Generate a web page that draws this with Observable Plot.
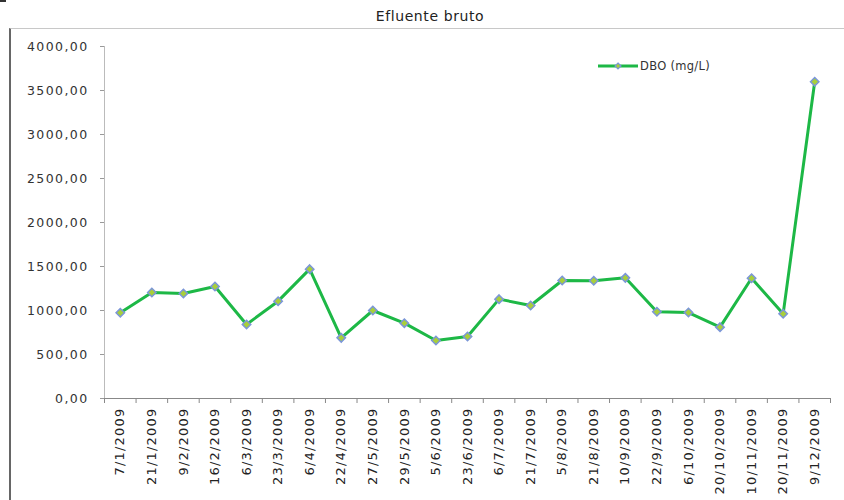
<!DOCTYPE html>
<html>
<head>
<meta charset="utf-8">
<script src="https://cdn.jsdelivr.net/npm/d3@7"></script>
<script src="https://cdn.jsdelivr.net/npm/@observablehq/plot@0.6"></script>
<style>
  body { margin: 0; background: #fff; font-family: "DejaVu Sans", sans-serif; }
  #wrap { position: relative; width: 844px; height: 500px; overflow: hidden; }
  #title { position: absolute; left: 0; top: 8px; width: 860px; text-align: center; font-size: 14px; color: #222; letter-spacing: 0.6px; }
  #chart { position: absolute; left: 9px; top: 28px; border-left: 2px solid #666; border-top: 1px solid #c8c8c8; }
  #legend { position: absolute; left: 598px; top: 59px; font-size: 11.5px; color: #333; display: flex; align-items: center; letter-spacing: 0.3px; }
  #mark { position: absolute; left: 0; top: 0; width: 6px; height: 2px; background: #333; }
  #chart g[aria-label="y-axis tick label"] text { letter-spacing: 1.4px; }
  #chart g[aria-label="x-axis tick label"] text { letter-spacing: 1.2px; }
</style>
</head>
<body>
<div id="wrap">
  <div id="mark"></div>
  <div id="title">Efluente bruto</div>
  <div id="chart"></div>
  <div id="legend"><svg width="42" height="12"><line x1="0" y1="6" x2="40" y2="6" stroke="#1db846" stroke-width="3"/><path d="M20,3 L23,6 L20,9 L17,6 Z" fill="#a8cf3a" stroke="#7b96d8" stroke-width="1.2"/></svg><span>DBO (mg/L)</span></div>
</div>
<script>
const dates = ["7/1/2009","21/1/2009","9/2/2009","16/2/2009","6/3/2009","23/3/2009","6/4/2009","22/4/2009","27/5/2009","29/5/2009","5/6/2009","23/6/2009","6/7/2009","21/7/2009","5/8/2009","21/8/2009","10/9/2009","22/9/2009","6/10/2009","20/10/2009","10/11/2009","20/11/2009","9/12/2009"];
const dbo = [974, 1205, 1193, 1273, 841, 1106, 1470, 689, 1000, 856, 659, 705, 1129, 1057, 1341, 1338, 1371, 985, 977, 811, 1367, 962, 3600];
const yTicks = [0, 500, 1000, 1500, 2000, 2500, 3000, 3500, 4000];

const n = dates.length;
const data = dates.map((d, i) => ({i, date: d, value: dbo[i]}));
const fmt = v => v.toFixed(2).replace(".", ",");

const chart = Plot.plot({
  width: 833,
  height: 471,
  marginLeft: 93,
  marginRight: 14,
  marginTop: 17,
  marginBottom: 102,
  style: {fontFamily: "DejaVu Sans", fontSize: "12px", color: "#333", background: "#fff"},
  x: {type: "linear", domain: [0, n]},
  y: {domain: [0, 4000]},
  marks: [
    Plot.axisY({ticks: yTicks, tickFormat: fmt, tickSize: 4, tickPadding: 12, stroke: "#999", fill: "#333", fontSize: 12.5, label: null}),
    Plot.axisX({ticks: d3.range(n + 1), tickFormat: () => "", tickSize: 5, stroke: "#888", label: null}),
    Plot.axisX({ticks: d3.range(n).map(i => i + 0.5), tickFormat: d => dates[Math.floor(d)], tickRotate: -90, tickSize: 0, tickPadding: 9, fill: "#222", fontSize: 13, label: null}),
    Plot.ruleY([0], {stroke: "#888"}),
    Plot.ruleX([0], {stroke: "#bbb"}),
    Plot.line(data, {x: d => d.i + 0.5, y: "value", stroke: "#1db846", strokeWidth: 3}),
    Plot.dot(data, {x: d => d.i + 0.5, y: "value", symbol: "diamond2", r: 3.8, fill: "#a8cf3a", stroke: "#7b96d8", strokeWidth: 1.5})
  ]
});
document.getElementById("chart").appendChild(chart);
</script>
</body>
</html>
